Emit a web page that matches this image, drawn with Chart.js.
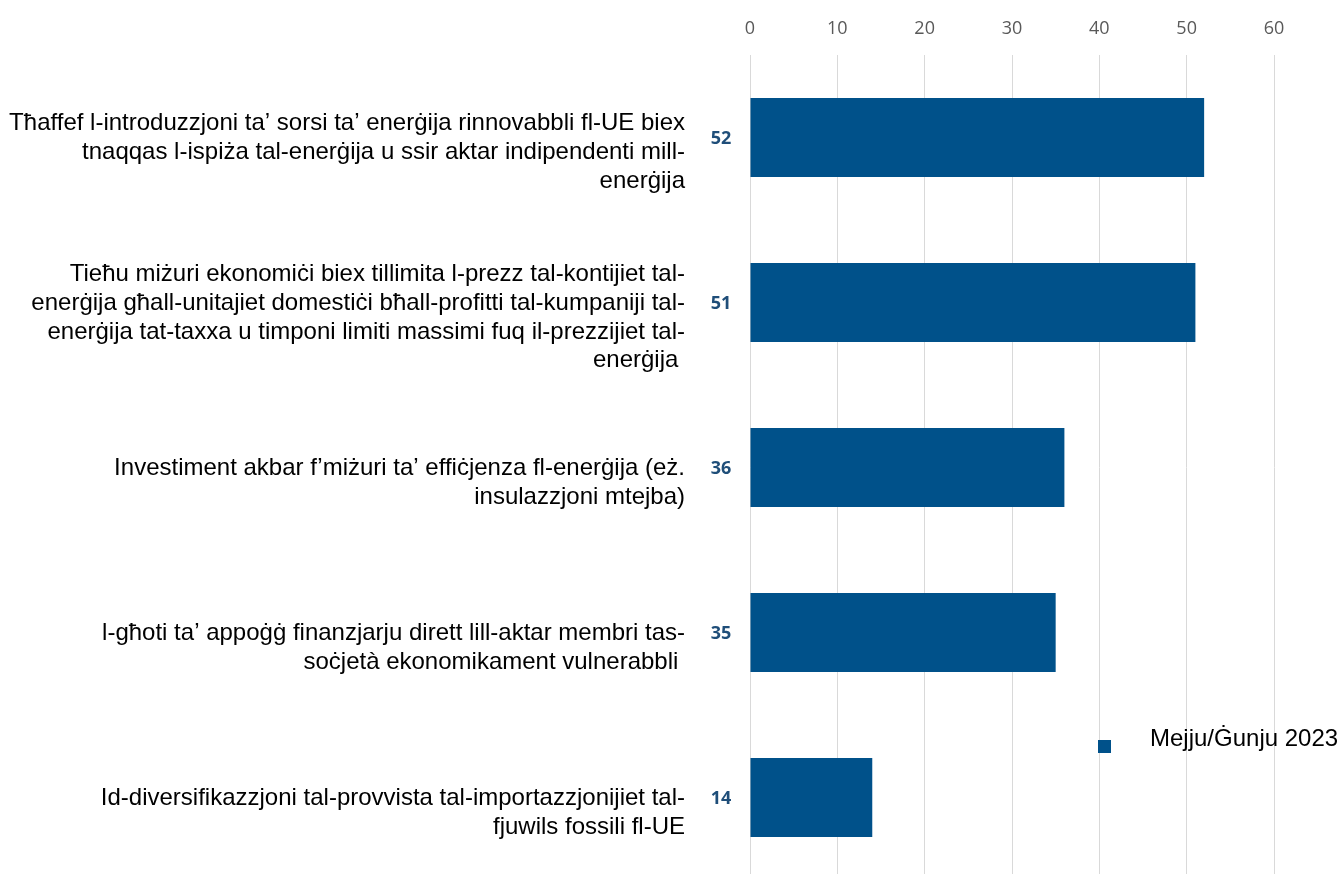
<!DOCTYPE html>
<html>
<head>
<meta charset="utf-8">
<script src="https://cdn.jsdelivr.net/npm/chart.js@4/dist/chart.umd.min.js"></script>
<style>
  html, body { margin: 0; padding: 0; background: #fff; overflow: hidden; }
  #wrap { position: absolute; left: 0; top: 0; width: 1340px; height: 882px; }
</style>
</head>
<body>
<div id="wrap"><canvas id="c"></canvas></div>
<script>
// Categories (each label split into its display lines)
const categories = [
  ["Tħaffef l-introduzzjoni ta’ sorsi ta’ enerġija rinnovabbli fl-UE biex",
   "tnaqqas l-ispiża tal-enerġija u ssir aktar indipendenti mill-",
   "enerġija"],
  ["Tieħu miżuri ekonomiċi biex tillimita l-prezz tal-kontijiet tal-",
   "enerġija għall-unitajiet domestiċi bħall-profitti tal-kumpaniji tal-",
   "enerġija tat-taxxa u timponi limiti massimi fuq il-prezzijiet tal-",
   "enerġija "],
  ["Investiment akbar f’miżuri ta’ effiċjenza fl-enerġija (eż.",
   "insulazzjoni mtejba)"],
  ["l-għoti ta’ appoġġ finanzjarju dirett lill-aktar membri tas-",
   "soċjetà ekonomikament vulnerabbli "],
  ["Id-diversifikazzjoni tal-provvista tal-importazzjonijiet tal-",
   "fjuwils fossili fl-UE"]
];
const seriesLabel = "Mejju/Ġunju 2023";
const values = [52, 51, 36, 35, 14];
const xTicks = [0, 10, 20, 30, 40, 50, 60];

const BAR_COLOR = "#00518A";
const VALUE_COLOR = "#1F4E79";

// Bold value labels to the left of the plot area, one per bar
const valueLabels = {
  id: "valueLabels",
  afterDatasetsDraw(chart) {
    const ctx = chart.ctx;
    const meta = chart.getDatasetMeta(0);
    ctx.save();
    ctx.font = "bold 18px 'Open Sans', sans-serif";
    ctx.fillStyle = VALUE_COLOR;
    ctx.textAlign = "center";
    ctx.textBaseline = "middle";
    meta.data.forEach((bar, i) => {
      ctx.fillText(String(chart.data.datasets[0].data[i]), chart.chartArea.left - 29, bar.y + 1);
    });
    ctx.restore();
  }
};

// Single-entry legend near the lower right
const cornerLegend = {
  id: "cornerLegend",
  afterDraw(chart) {
    const ctx = chart.ctx;
    const ds = chart.data.datasets[0];
    ctx.save();
    ctx.fillStyle = ds.backgroundColor;
    ctx.fillRect(1098, 740, 13, 13);
    ctx.font = "24px 'Liberation Sans', Arial, sans-serif";
    ctx.fillStyle = "#000";
    ctx.textAlign = "left";
    ctx.textBaseline = "middle";
    ctx.fillText(ds.label, 1150, 739);
    ctx.restore();
  }
};

new Chart(document.getElementById("c"), {
  type: "bar",
  data: {
    labels: categories,
    datasets: [{
      label: seriesLabel,
      data: values,
      backgroundColor: BAR_COLOR,
      borderWidth: 0,
      categoryPercentage: 1,
      barPercentage: 0.48
    }]
  },
  options: {
    indexAxis: "y",
    responsive: true,
    maintainAspectRatio: false,
    animation: false,
    layout: { autoPadding: false, padding: { top: 0, right: 66, bottom: 2, left: 0 } },
    plugins: {
      legend: { display: false },
      tooltip: { enabled: false }
    },
    scales: {
      x: {
        position: "top",
        min: 0,
        max: 60,
        afterBuildTicks: (s) => { s.ticks = xTicks.map(v => ({ value: v })); },
        afterFit: (s) => { s.height = 55; s.paddingLeft = 0; s.paddingRight = 0; },
        grid: { color: "#d9d9d9", lineWidth: 1, drawTicks: false },
        border: { display: false },
        ticks: {
          padding: 15,
          color: "#595959",
          font: { family: "'Open Sans', sans-serif", size: 18 }
        }
      },
      y: {
        afterFit: (s) => { s.width = 750; s.paddingTop = 0; s.paddingBottom = 0; },
        grid: { display: false, drawTicks: false },
        border: { display: false },
        ticks: {
          padding: 65,
          labelOffset: 15,
          color: "#000",
          autoSkip: false,
          font: { family: "'Liberation Sans', Arial, sans-serif", size: 24, lineHeight: 1.2 }
        }
      }
    }
  },
  plugins: [valueLabels, cornerLegend]
});
</script>
</body>
</html>
